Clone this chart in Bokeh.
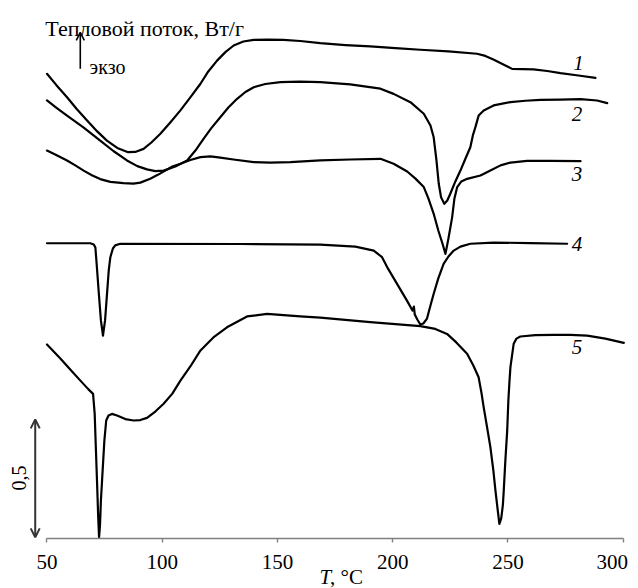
from bokeh.plotting import figure
from bokeh.models import Range1d, FixedTicker, Arrow, OpenHead, Label
from bokeh.embed import file_html
from bokeh.resources import INLINE

# ---- data (T in °C, heat flow in W/g, curves offset vertically) ----
tick_values = [50, 100, 150, 200, 250, 300]

c1_T = [50.0, 54.0, 58.7, 62.9, 67.4, 71.8, 76.0, 80.5, 85.2, 88.3, 91.9, 95.3, 99.2,
        103.5, 107.9, 112.2, 116.6, 120.0, 123.8, 127.4, 131.0, 135.2, 139.7, 146.0,
        152.6, 159.9, 168.6, 179.5, 190.3, 201.2, 212.0, 224.2, 236.6, 240.2, 243.7,
        247.6, 251.8, 256.3, 261.1, 267.1, 272.8, 280.6, 288.0]
c1_Y = [1.969, 1.922, 1.870, 1.820, 1.771, 1.725, 1.686, 1.655, 1.637, 1.638, 1.651,
        1.678, 1.715, 1.763, 1.814, 1.869, 1.927, 1.979, 2.025, 2.061, 2.089, 2.106,
        2.113, 2.114, 2.113, 2.108, 2.099, 2.091, 2.085, 2.078, 2.071, 2.064, 2.054,
        2.045, 2.030, 2.011, 1.990, 1.989, 1.988, 1.981, 1.972, 1.962, 1.952]

c2_T = [50.0, 54.0, 58.7, 65.8, 73.1, 78.8, 84.7, 89.2, 93.4, 97.0, 100.6, 105.7,
        110.8, 114.4, 118.0, 121.3, 125.2, 128.7, 132.5, 136.1, 139.7, 144.7, 151.3,
        159.9, 168.6, 181.6, 194.7, 200.4, 207.7, 213.5, 216.4, 217.8, 219.0, 220.0,
        221.0, 222.4, 223.7, 225.0, 227.2, 229.4, 231.6, 233.7, 234.8, 235.9, 237.3,
        239.5, 243.8, 251.1, 257.6, 264.1, 272.8, 281.5, 288.7, 293.1]
c2_Y = [1.856, 1.826, 1.792, 1.742, 1.686, 1.642, 1.602, 1.578, 1.564, 1.557, 1.559,
        1.576, 1.602, 1.644, 1.694, 1.739, 1.785, 1.826, 1.863, 1.892, 1.912, 1.926,
        1.934, 1.936, 1.934, 1.924, 1.906, 1.884, 1.849, 1.800, 1.750, 1.700, 1.602,
        1.503, 1.446, 1.418, 1.432, 1.461, 1.513, 1.559, 1.610, 1.658, 1.708, 1.743,
        1.792, 1.814, 1.835, 1.849, 1.855, 1.859, 1.860, 1.862, 1.856, 1.845]

c3_T = [50.0, 54.0, 58.7, 62.3, 65.9, 69.7, 73.1, 77.5, 83.2, 87.5, 90.5, 94.8, 98.3,
        101.3, 104.4, 107.9, 112.2, 116.6, 120.9, 125.2, 130.9, 139.7, 146.9, 155.6,
        168.6, 181.6, 194.7, 200.4, 206.3, 209.9, 213.5, 215.5, 217.8, 219.8, 221.6,
        222.9, 224.2, 225.8, 226.8, 228.0, 229.8, 232.3, 238.1, 242.4, 246.8, 251.1,
        258.3, 268.4, 281.5]
c3_Y = [1.644, 1.625, 1.602, 1.581, 1.559, 1.538, 1.523, 1.511, 1.506, 1.504, 1.508,
        1.524, 1.542, 1.559, 1.576, 1.588, 1.604, 1.616, 1.619, 1.614, 1.606, 1.595,
        1.593, 1.595, 1.602, 1.606, 1.609, 1.588, 1.555, 1.525, 1.489, 1.441, 1.376,
        1.305, 1.250, 1.206, 1.271, 1.361, 1.441, 1.489, 1.513, 1.524, 1.538, 1.559,
        1.581, 1.593, 1.600, 1.600, 1.599]

c4_T = [50.0, 68.8, 70.3, 71.0, 71.6, 72.4, 73.4, 74.3, 75.2, 76.0, 76.8, 77.5, 78.6,
        79.6, 81.8, 133.9, 168.6, 183.8, 191.8, 195.4, 197.6, 201.9, 206.2, 208.6,
        209.2, 209.6, 210.7, 212.0, 213.3, 214.9, 216.4, 217.8, 219.8, 222.1, 224.2,
        226.5, 229.4, 233.7, 243.8, 259.8, 275.7]
c4_Y = [1.251, 1.251, 1.246, 1.233, 1.157, 1.051, 0.924, 0.860, 0.924, 1.030, 1.136,
        1.192, 1.229, 1.242, 1.249, 1.248, 1.245, 1.237, 1.220, 1.192, 1.150, 1.079,
        1.008, 0.966, 0.983, 0.949, 0.928, 0.907, 0.911, 0.932, 0.987, 1.037, 1.102,
        1.164, 1.195, 1.220, 1.237, 1.249, 1.254, 1.252, 1.249]

c5_T = [50.0, 55.8, 60.1, 64.5, 67.9, 70.0, 70.7, 71.2, 71.7, 72.2, 72.6, 73.0, 73.4,
        73.9, 74.9, 75.7, 76.7, 78.2, 80.4, 84.0, 87.6, 90.5, 93.4, 97.0, 100.6, 104.4,
        107.9, 112.2, 116.6, 122.2, 128.1, 136.8, 145.5, 159.9, 168.6, 190.3, 212.0,
        218.5, 223.6, 227.6, 232.3, 235.0, 237.3, 238.5, 239.5, 240.9, 242.4, 243.7,
        244.6, 245.6, 246.3, 247.1, 247.8, 248.2, 248.9, 249.7, 250.2, 250.7, 251.1,
        252.5, 253.7, 255.4, 261.9, 269.9, 277.1, 284.4, 292.3, 300.3]
c5_Y = [0.822, 0.763, 0.716, 0.669, 0.633, 0.613, 0.528, 0.386, 0.246, 0.097, 0.006,
        0.055, 0.161, 0.246, 0.415, 0.500, 0.521, 0.528, 0.521, 0.506, 0.500, 0.502,
        0.511, 0.538, 0.571, 0.614, 0.669, 0.729, 0.797, 0.852, 0.895, 0.941, 0.952,
        0.941, 0.936, 0.917, 0.900, 0.888, 0.867, 0.831, 0.783, 0.733, 0.683, 0.619,
        0.556, 0.475, 0.387, 0.288, 0.203, 0.119, 0.062, 0.085, 0.140, 0.203, 0.331,
        0.458, 0.585, 0.669, 0.726, 0.825, 0.847, 0.856, 0.862, 0.863, 0.863, 0.860,
        0.847, 0.829]

curve_names = ["1", "2", "3", "4", "5"]
label_T = [280.6, 280.0, 280.0, 280.0, 280.0]
label_Y = [2.014, 1.800, 1.545, 1.249, 0.811]

scale_value = 0.5  # W/g scale bar
scale_label = "0,5"

FONT = "Liberation Serif"

p = figure(width=638, height=588, x_range=Range1d(32, 304.5),
           y_range=Range1d(-0.2118, 2.2585),
           output_backend="svg", toolbar_location=None,
           min_border_left=5, min_border_right=5, min_border_top=5, min_border_bottom=0)
p.xgrid.visible = False
p.ygrid.visible = False
p.yaxis.visible = False
p.outline_line_color = None
p.background_fill_color = "white"
p.border_fill_color = "white"

ax = p.xaxis[0]
ax.fixed_location = 0
ax.ticker = FixedTicker(ticks=tick_values)
ax.bounds = (50, 300)
ax.major_label_overrides = {300: "300\u00a0\u00a0"}
ax.axis_line_color = "#808080"
ax.axis_line_width = 1.6
ax.major_tick_line_color = "#808080"
ax.major_tick_line_width = 1.4
ax.major_tick_in = 0
ax.major_tick_out = 4
ax.minor_tick_line_color = None
ax.major_label_text_font = FONT
ax.major_label_text_font_size = "21px"
ax.major_label_text_color = "black"
ax.major_label_standoff = 7

for T, Y in [(c1_T, c1_Y), (c2_T, c2_Y), (c3_T, c3_Y), (c4_T, c4_Y), (c5_T, c5_Y)]:
    p.line(T, Y, line_color="black", line_width=2.2, line_join="round", line_cap="round")

for name, tx, ty in zip(curve_names, label_T, label_Y):
    p.add_layout(Label(x=tx, y=ty, text=name, text_font=FONT, text_font_size="21px",
                       text_font_style="italic", text_align="center",
                       text_baseline="middle", text_color="black"))

# scale bar
p.add_layout(Arrow(x_start=44.9, y_start=0.005, x_end=44.9, y_end=0.005 + scale_value,
                   line_color="#333333", line_width=2,
                   start=OpenHead(size=9, line_width=2, line_color="#333333"),
                   end=OpenHead(size=9, line_width=2, line_color="#333333")))
p.add_layout(Label(x=38.0, y=0.256, text=scale_label, angle=1.5708, text_font=FONT,
                   text_font_size="20px", text_align="center", text_baseline="middle",
                   text_color="black"))

# y title and exo arrow
p.add_layout(Label(x=49.3, y=2.161, text="Тепловой поток, Вт/г", text_font=FONT,
                   text_font_size="22px", text_align="left", text_baseline="alphabetic",
                   text_color="black"))
p.add_layout(Arrow(x_start=64.45, y_start=1.990, x_end=64.45, y_end=2.145,
                   line_color="black", line_width=1.6,
                   end=OpenHead(size=8, line_width=1.6, line_color="black")))
p.add_layout(Label(x=68.5, y=1.997, text="экзо", text_font=FONT,
                   text_font_size="20px", text_align="left", text_baseline="alphabetic",
                   text_color="black"))

# x title
p.add_layout(Label(x=168.2, y=-0.162, text="T", text_font=FONT, text_font_size="21px",
                   text_font_style="italic", text_align="left",
                   text_baseline="alphabetic", text_color="black"))
p.add_layout(Label(x=172.8, y=-0.162, text=", °C", text_font=FONT, text_font_size="21px",
                   text_align="left", text_baseline="alphabetic", text_color="black"))

open("out.html", "w").write(file_html(p, INLINE))
